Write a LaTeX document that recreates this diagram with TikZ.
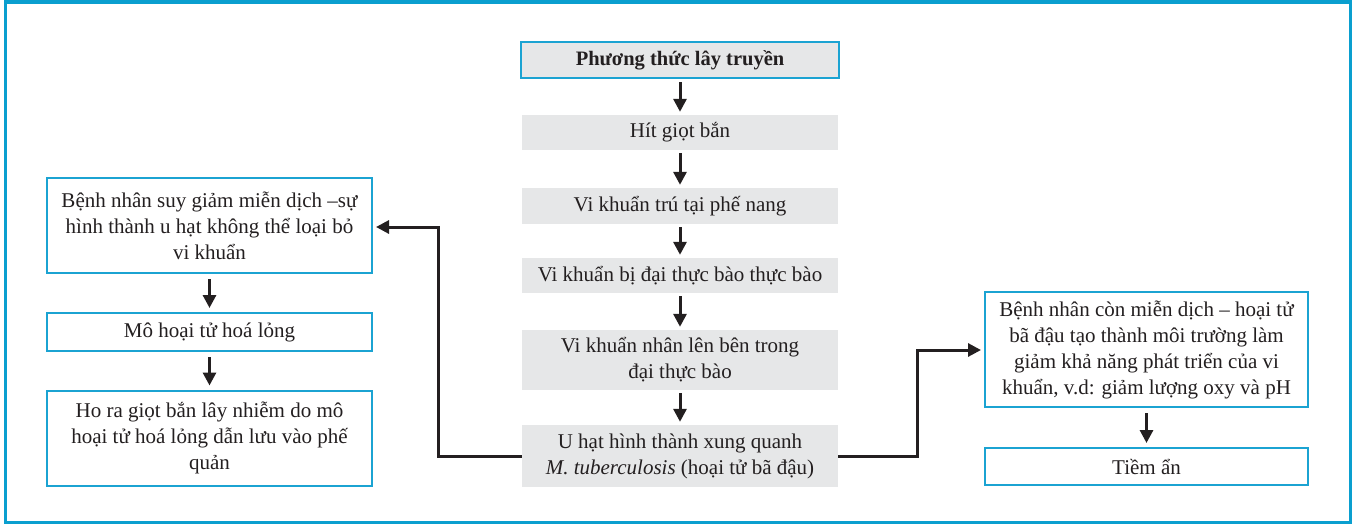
\documentclass[tikz,border=0pt]{standalone}
\usepackage{fontspec}
\setmainfont{Liberation Serif}
\usetikzlibrary{arrows.meta}
\definecolor{frameblue}{HTML}{0A9FCF}
\definecolor{boxblue}{HTML}{1BA3D2}
\definecolor{boxgray}{HTML}{E6E7E8}
\definecolor{ink}{HTML}{231F20}
\begin{document}
\begin{tikzpicture}[x=1pt,y=-1pt,
  font=\fontsize{21}{26}\selectfont, text=ink,
  grayfill/.style={fill=boxgray, draw=none, align=center, inner sep=0pt, minimum width=316pt},
  bluebox/.style={draw=boxblue, line width=2pt, fill=white, align=center, inner sep=0pt, minimum width=323pt},
  flow/.style={draw=ink, line width=3pt, -{Triangle[width=13pt,length=13pt]}, shorten <=3pt, shorten >=3pt},
  link/.style={draw=ink, line width=3pt, -{Triangle[width=13pt,length=13pt]}, rounded corners=0pt}]
\useasboundingbox (0,0) rectangle (1356,525);
% outer frame
\draw[frameblue, line width=3pt] (5.5,2.5) rectangle (1350.5,522.5);
\fill[frameblue] (4,0) rectangle (1352,4);

% central column
\node[grayfill, draw=boxblue, line width=2pt, minimum width=318pt, minimum height=36pt, font=\fontsize{20.5}{26}\selectfont\bfseries] (route) at (680,60) {Phương thức lây truyền};
\node[grayfill, minimum height=35pt] (inhale) at (680,132.5) {Hít giọt bắn};
\node[grayfill, minimum height=36pt] (alveoli) at (680,206) {Vi khuẩn trú tại phế nang};
\node[grayfill, minimum height=35pt] (phago) at (680,275.5) {Vi khuẩn bị đại thực bào thực bào};
\node[grayfill, minimum height=60pt] (multiply) at (680,360) {Vi khuẩn nhân lên bên trong\\đại thực bào};
\node[grayfill, minimum height=62pt] (granuloma) at (680,456) {U hạt hình thành xung quanh\\\textit{M. tuberculosis} (hoại tử bã đậu)};

% left branch: immunocompromised
\node[bluebox, minimum width=325pt, minimum height=95pt] (immunodef) at (209.5,225.5) {Bệnh nhân suy giảm miễn dịch –sự\\hình thành u hạt không thể loại bỏ\\vi khuẩn};
\node[bluebox, minimum width=325pt, minimum height=38pt] (liquef) at (209.5,332) {Mô hoại tử hoá lỏng};
\node[bluebox, minimum width=325pt, minimum height=95pt] (cough) at (209.5,438) {Ho ra giọt bắn lây nhiễm do mô\\hoại tử hoá lỏng dẫn lưu vào phế\\quản};

% right branch: immunocompetent
\node[bluebox, minimum height=115pt] (immunocomp) at (1146.5,349.5) {Bệnh nhân còn miễn dịch – hoại tử\\bã đậu tạo thành môi trường làm\\giảm khả năng phát triển của vi\\khuẩn, v.d: giảm lượng oxy và pH};
\node[bluebox, minimum height=37pt] (latent) at (1146.5,466.5) {Tiềm ẩn};

% arrows
\draw[flow] (route) -- (inhale);
\draw[flow] (inhale) -- (alveoli);
\draw[flow] (alveoli) -- (phago);
\draw[flow] (phago) -- (multiply);
\draw[flow] (multiply) -- (granuloma);
\draw[flow, shorten <=5pt, shorten >=4pt] (immunodef) -- (liquef);
\draw[flow, shorten <=5pt, shorten >=4pt] (liquef) -- (cough);
\draw[flow, shorten <=5pt, shorten >=4pt] (immunocomp) -- (latent);

\draw[link, shorten >=3pt] (granuloma.west) -- (438,456) |- (immunodef.east |- 0,227);
\draw[link, shorten >=3pt] (granuloma.east) -- (917,456) |- (immunocomp.west |- 0,350);
\end{tikzpicture}
\end{document}
